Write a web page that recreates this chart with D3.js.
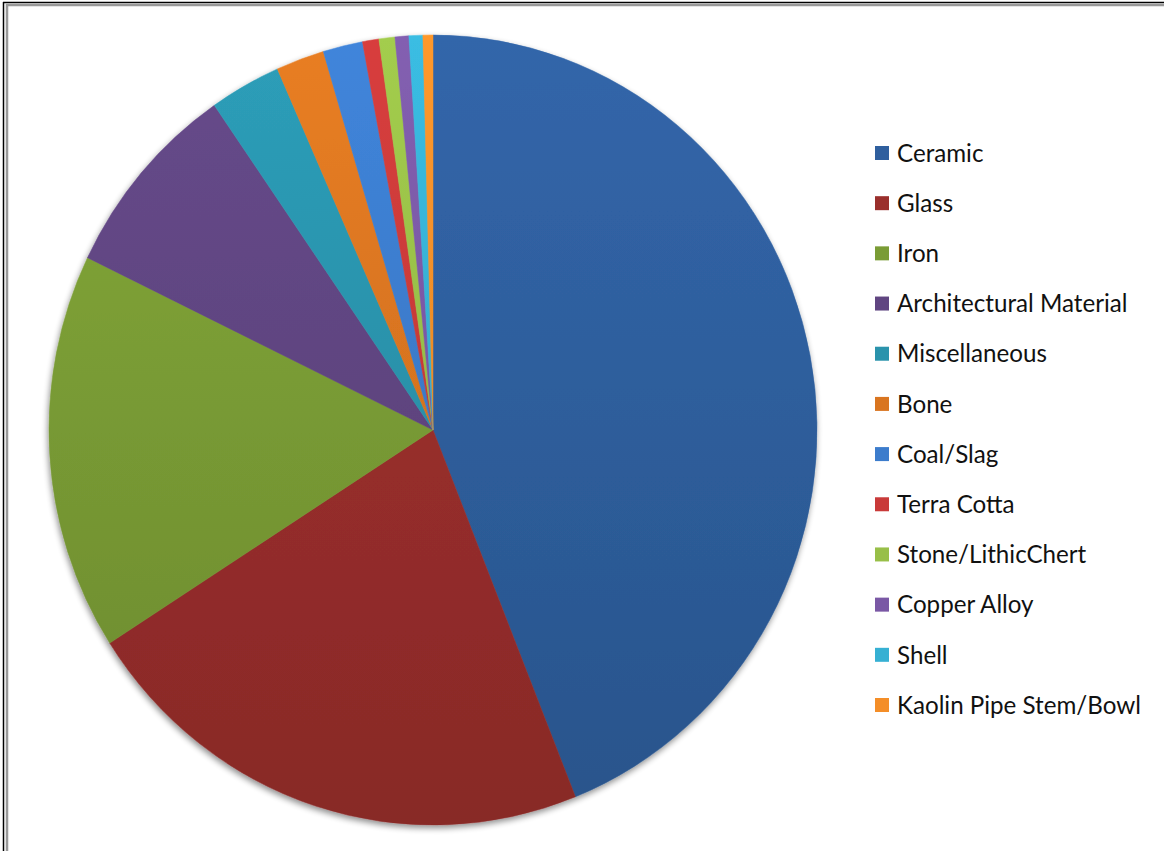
<!DOCTYPE html>
<html>
<head>
<meta charset="utf-8">
<script src="https://cdn.jsdelivr.net/npm/d3@7"></script>
<style>
  html, body { margin: 0; padding: 0; background: #fff; }
  svg { display: block; }
</style>
</head>
<body>
<svg id="chart" width="1164" height="851"></svg>
<script>
// ---- data ----
const categories = ["Ceramic", "Glass", "Iron", "Architectural Material", "Miscellaneous", "Bone",
  "Coal/Slag", "Terra Cotta", "Stone/LithicChert", "Copper Alloy", "Shell", "Kaolin Pipe Stem/Bowl"];
const values = [43.94, 21.97, 16.25, 8.17, 3.0, 2.03, 1.67, 0.69, 0.67, 0.58, 0.58, 0.42];
const colors = ["#2F5F9E", "#9A2F2C", "#7A9C35", "#604581", "#2A93AC", "#D97520",
  "#3C7CCC", "#C93A39", "#98BF48", "#7A58A5", "#36B0D3", "#F48E28"];

// ---- layout ----
const svg = d3.select("#chart");
const cx = 433, cy = 430, rx = 384, ry = 395;

// frame lines (top & left)
svg.append("line").attr("x1", 3).attr("y1", 2.5).attr("x2", 1164).attr("y2", 2.5).attr("stroke", "#000").attr("stroke-width", 1.5);
svg.append("line").attr("x1", 3.5).attr("y1", 2).attr("x2", 3.5).attr("y2", 851).attr("stroke", "#000").attr("stroke-width", 1.5);
svg.append("line").attr("x1", 6).attr("y1", 5).attr("x2", 1164).attr("y2", 5).attr("stroke", "#999").attr("stroke-width", 2.5);
svg.append("line").attr("x1", 7).attr("y1", 4).attr("x2", 7).attr("y2", 851).attr("stroke", "#999").attr("stroke-width", 2.5);

const defs = svg.append("defs");
const filt = defs.append("filter").attr("id", "shadow").attr("x", "-10%").attr("y", "-10%").attr("width", "120%").attr("height", "120%");
filt.append("feGaussianBlur").attr("in", "SourceAlpha").attr("stdDeviation", 3).attr("result", "b");
filt.append("feOffset").attr("in", "b").attr("dx", -1).attr("dy", 3).attr("result", "o");
filt.append("feComponentTransfer").attr("in", "o").attr("result", "s")
  .append("feFuncA").attr("type", "linear").attr("slope", 0.45);
const fm = filt.append("feMerge");
fm.append("feMergeNode").attr("in", "s");
fm.append("feMergeNode").attr("in", "SourceGraphic");

colors.forEach((c, i) => {
  const g = defs.append("linearGradient").attr("id", "g" + i)
    .attr("gradientUnits", "userSpaceOnUse").attr("x1", 0).attr("y1", -ry).attr("x2", 0).attr("y2", ry);
  g.append("stop").attr("offset", "0%").attr("stop-color", d3.color(c).brighter(0.2).formatHex());
  g.append("stop").attr("offset", "100%").attr("stop-color", d3.color(c).darker(0.35).formatHex());
});

const pie = d3.pie().sort(null).value(d => d)(values);
const arc = d3.arc().innerRadius(0).outerRadius(ry);

const pieG = svg.append("g").attr("filter", "url(#shadow)")
  .append("g").attr("transform", `translate(${cx},${cy}) scale(${rx / ry},1)`);
pieG.selectAll("path").data(pie).join("path")
  .attr("d", arc)
  .attr("fill", (d, i) => `url(#g${i})`)
  .attr("stroke", (d, i) => `url(#g${i})`)
  .attr("stroke-width", 0.5);

// ---- legend ----
const legY = d3.scalePoint().domain(categories).range([153, 705]);
const leg = svg.append("g").attr("class", "legend");
const items = leg.selectAll("g").data(categories).join("g")
  .attr("transform", d => `translate(875,${legY(d)})`);
items.append("rect").attr("x", 0).attr("y", -7).attr("width", 14).attr("height", 14)
  .attr("fill", (d, i) => colors[i]);
const texts = items.append("text").attr("x", 22).attr("y", 0).attr("dy", "0.36em")
  .attr("font-family", "Lato, 'Open Sans', sans-serif").attr("font-size", 24)
  .attr("fill", "#111").text(d => d);
// fit font size so the longest legend label spans its width in the reference
const longest = texts.filter(d => d === "Kaolin Pipe Stem/Bowl").node();
const w = longest.getComputedTextLength();
const fs = 24 * 244 / w;
texts.attr("font-size", fs);
</script>
</body>
</html>
